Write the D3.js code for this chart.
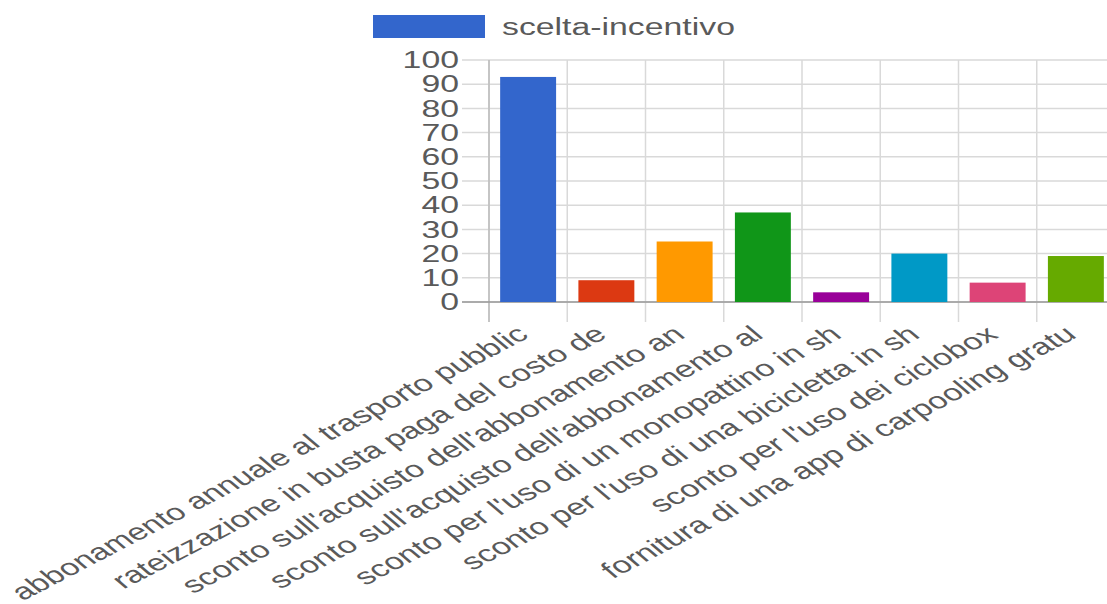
<!DOCTYPE html>
<meta charset="utf-8">
<style>
body { margin: 0; background: #fff; }
svg { display: block; font-family: "Liberation Sans", Arial, sans-serif; }
.grid line { stroke: #d9d9d9; stroke-width: 1.5px; }
.tick-label { fill: #5a5a5a; font-size: 23px; }
</style>
<svg width="1107" height="604"></svg>
<script src="https://d3js.org/d3.v7.min.js"></script>
<script>
// data
var categories = [
  "abbonamento annuale al trasporto pubblic",
  "rateizzazione in busta paga del costo de",
  "sconto sull'acquisto dell'abbonamento an",
  "sconto sull'acquisto dell'abbonamento al",
  "sconto per l'uso di un monopattino in sh",
  "sconto per l'uso di una bicicletta in sh",
  "sconto per l'uso dei ciclobox",
  "fornitura di una app di carpooling gratu"
];
var values = [93, 9, 25, 37, 4, 20, 8, 19];
var colors = ["#3366cc", "#dc3912", "#ff9900", "#109618", "#990099", "#0099c6", "#dd4477", "#66aa00"];
var seriesName = "scelta-incentivo";
var yTicks = [0, 10, 20, 30, 40, 50, 60, 70, 80, 90, 100];

var svg = d3.select("svg");

// the source picture is stretched sideways, text too
var stretch = 1.47;
var labelStretch = 1.5;

var plotLeft = 489, plotRight = 1115, plotTop = 60, plotBottom = 302;

var x = d3.scaleBand()
    .domain(categories)
    .range([plotLeft, plotRight])
    .paddingInner(0.285)
    .paddingOuter(0.1425);

var y = d3.scaleLinear()
    .domain([0, 100])
    .range([plotBottom, plotTop]);

var step = x.step();

// horizontal grid lines + ticks to the left
var grid = svg.append("g").attr("class", "grid");
grid.selectAll("line.h")
  .data(yTicks)
  .enter().append("line")
    .attr("class", "h")
    .attr("x1", plotLeft - 27)
    .attr("x2", plotRight)
    .attr("y1", function(d) { return y(d); })
    .attr("y2", function(d) { return y(d); });

// vertical grid lines at band boundaries, dropping below the axis
var bounds = categories.map(function(c) { return x(c) - step * x.paddingInner() / 2; });
bounds.push(plotRight);
grid.selectAll("line.v")
  .data(bounds)
  .enter().append("line")
    .attr("class", "v")
    .attr("x1", function(d) { return d; })
    .attr("x2", function(d) { return d; })
    .attr("y1", plotTop)
    .attr("y2", plotBottom + 20);

// y axis line
svg.append("line")
    .attr("x1", plotLeft).attr("x2", plotLeft)
    .attr("y1", plotTop).attr("y2", plotBottom + 20)
    .style("stroke", "#bbb").style("stroke-width", 1.5);

// zero line
svg.append("line")
    .attr("x1", plotLeft - 27).attr("x2", plotRight)
    .attr("y1", y(0)).attr("y2", y(0))
    .style("stroke", "#999").style("stroke-width", 1.5);

// bars
svg.append("g").selectAll("rect")
  .data(values)
  .enter().append("rect")
    .attr("x", function(d, i) { return x(categories[i]); })
    .attr("width", x.bandwidth())
    .attr("y", function(d) { return y(d); })
    .attr("height", function(d) { return y(0) - y(d); })
    .attr("fill", function(d, i) { return colors[i]; });

// y tick labels
svg.append("g").selectAll("text")
  .data(yTicks)
  .enter().append("text")
    .attr("class", "tick-label")
    .attr("transform", function(d) { return "translate(" + (plotLeft - 30) + "," + y(d) + ") scale(" + stretch + ",1)"; })
    .attr("dy", "0.36em")
    .attr("text-anchor", "end")
    .text(function(d) { return d; });

// rotated category labels
svg.append("g").selectAll("text")
  .data(categories)
  .enter().append("text")
    .attr("class", "tick-label")
    .attr("text-anchor", "end")
    .attr("transform", function(d) {
      return "translate(" + (x(d) + x.bandwidth() / 2 + 2) + "," + (plotBottom + 35) + ") scale(" + labelStretch + ",1) rotate(-38)";
    })
    .text(function(d) { return d; });

// legend
svg.append("rect")
    .attr("x", 373).attr("y", 15)
    .attr("width", 112).attr("height", 23)
    .attr("fill", colors[0]);
svg.append("text")
    .attr("class", "tick-label")
    .attr("transform", "translate(502,34.5) scale(" + stretch + ",1)")
    .text(seriesName);
</script>
